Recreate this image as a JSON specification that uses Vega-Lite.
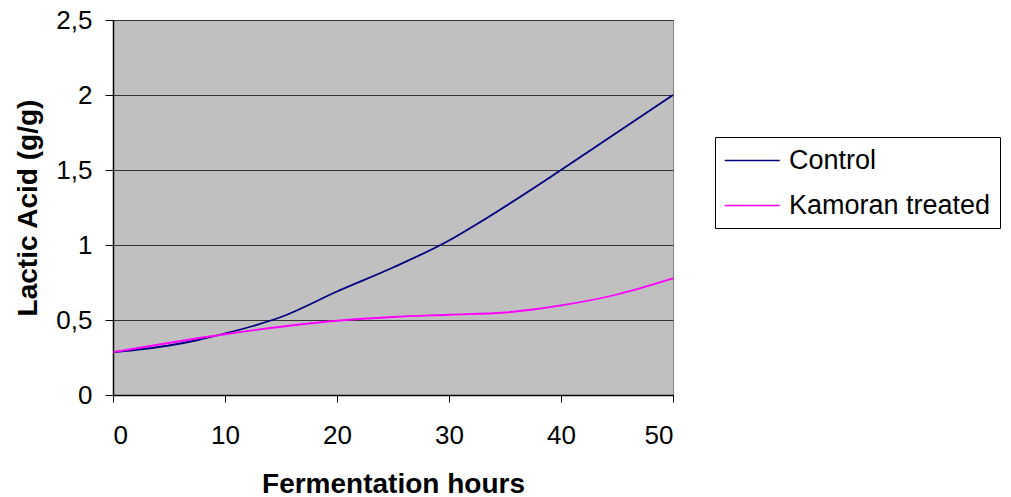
{
  "$schema": "https://vega.github.io/schema/vega-lite/v6.json",
  "width": 560,
  "height": 375,
  "autosize": {"type": "none"},
  "padding": {"left": 113, "top": 20, "right": 338, "bottom": 102},
  "background": "white",
  "config": {
    "view": {"fill": "#C0C0C0", "stroke": "#808080", "strokeWidth": 1},
    "font": "Liberation Sans"
  },
  "data": {
    "values": [
      {"hours": 0, "acid": 0.285, "series": "Control"},
      {"hours": 5, "acid": 0.33, "series": "Control"},
      {"hours": 7.5, "acid": 0.365, "series": "Control"},
      {"hours": 10, "acid": 0.41, "series": "Control"},
      {"hours": 12.5, "acid": 0.46, "series": "Control"},
      {"hours": 15, "acid": 0.52, "series": "Control"},
      {"hours": 20, "acid": 0.69, "series": "Control"},
      {"hours": 25, "acid": 0.85, "series": "Control"},
      {"hours": 30, "acid": 1.03, "series": "Control"},
      {"hours": 32.5, "acid": 1.14, "series": "Control"},
      {"hours": 40, "acid": 1.5, "series": "Control"},
      {"hours": 45, "acid": 1.75, "series": "Control"},
      {"hours": 50, "acid": 2.0, "series": "Control"},
      {"hours": 0, "acid": 0.285, "series": "Kamoran treated"},
      {"hours": 10, "acid": 0.405, "series": "Kamoran treated"},
      {"hours": 15, "acid": 0.455, "series": "Kamoran treated"},
      {"hours": 20, "acid": 0.495, "series": "Kamoran treated"},
      {"hours": 25, "acid": 0.52, "series": "Kamoran treated"},
      {"hours": 30, "acid": 0.535, "series": "Kamoran treated"},
      {"hours": 35, "acid": 0.55, "series": "Kamoran treated"},
      {"hours": 37.5, "acid": 0.57, "series": "Kamoran treated"},
      {"hours": 40, "acid": 0.597, "series": "Kamoran treated"},
      {"hours": 45, "acid": 0.67, "series": "Kamoran treated"},
      {"hours": 50, "acid": 0.777, "series": "Kamoran treated"}
    ]
  },
  "mark": {"type": "line", "interpolate": "monotone", "strokeWidth": 1.8},
  "encoding": {
    "x": {
      "field": "hours",
      "type": "quantitative",
      "scale": {"domain": [0, 50], "nice": false},
      "axis": {
        "title": "Fermentation hours",
        "values": [0, 10, 20, 30, 40, 50],
        "grid": false,
        "domainColor": "black",
        "domainWidth": 1.5,
        "tickColor": "black",
        "tickSize": 7,
        "labelFontSize": 26,
        "labelColor": "black",
        "labelPadding": 20,
        "titleFontSize": 28,
        "titleFontWeight": "bold",
        "titleColor": "black",
        "titlePadding": 22
      }
    },
    "y": {
      "field": "acid",
      "type": "quantitative",
      "scale": {"domain": [0, 2.5], "nice": false},
      "axis": {
        "title": "Lactic Acid (g/g)",
        "values": [0, 0.5, 1, 1.5, 2, 2.5],
        "labelExpr": "replace(format(datum.value, '.1~f'), '.', ',')",
        "grid": true,
        "gridColor": "#333333",
        "gridWidth": 1,
        "domainColor": "black",
        "domainWidth": 1.5,
        "tickColor": "black",
        "tickSize": 8,
        "labelFontSize": 26,
        "labelColor": "black",
        "labelPadding": 13,
        "titleFontSize": 28,
        "titleFontWeight": "bold",
        "titleColor": "black",
        "titlePadding": 13
      }
    },
    "color": {
      "field": "series",
      "type": "nominal",
      "scale": {"domain": ["Control", "Kamoran treated"], "range": ["#000080", "#FF00FF"]},
      "legend": {
        "title": null,
        "orient": "none",
        "legendX": 602,
        "legendY": 117,
        "strokeColor": "black",
        "fillColor": "white",
        "padding": 9,
        "symbolType": "M-1,0H3",
        "symbolSize": 756,
        "symbolStrokeWidth": 1.5,
        "labelFontSize": 27,
        "labelColor": "black",
        "labelOffset": 36,
        "rowPadding": 17,
        "labelLimit": 400
      }
    }
  }
}
